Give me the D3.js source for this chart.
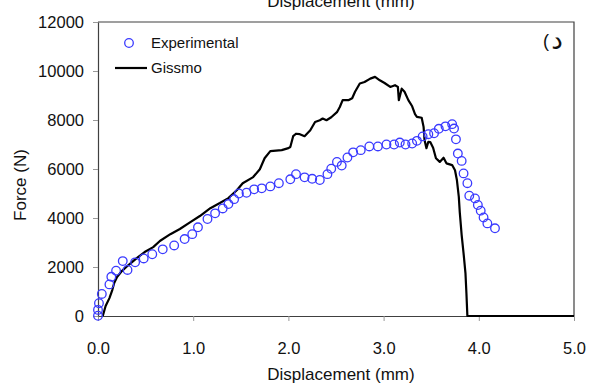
<!DOCTYPE html>
<html>
<head>
<meta charset="utf-8">
<script src="https://cdn.jsdelivr.net/npm/d3@7"></script>
<style>
  html, body { margin: 0; padding: 0; background: #fff; }
  svg { display: block; font-family: Arial, "Liberation Sans", sans-serif; }
</style>
</head>
<body>
<svg id="chart" width="589" height="383"></svg>
<script>
// ---- Data ----
const expDisp = [0.00, 0.00, 0.01, 0.04, 0.12, 0.14, 0.19, 0.26, 0.31, 0.39, 0.48, 0.57, 0.68, 0.80, 0.91, 0.99,
  1.05, 1.15, 1.23, 1.31, 1.37, 1.43, 1.48, 1.56, 1.64, 1.72, 1.81, 1.90, 2.02, 2.08, 2.17, 2.25, 2.33,
  2.41, 2.45, 2.51, 2.56, 2.62, 2.68, 2.76, 2.85, 2.94, 3.03, 3.11, 3.17, 3.23, 3.30, 3.35, 3.41, 3.47,
  3.53, 3.58, 3.65, 3.72, 3.74, 3.76, 3.78, 3.82, 3.84, 3.88, 3.90, 3.96, 3.99, 4.02, 4.05, 4.09, 4.17];
const expForce = [10, 250, 520, 900, 1290, 1600, 1850, 2240, 1880, 2190, 2350, 2520, 2720, 2880, 3140, 3340,
  3620, 3960, 4190, 4390, 4570, 4770, 5000, 5030, 5170, 5210, 5290, 5420, 5580, 5790, 5660, 5600, 5550,
  5790, 6010, 6290, 6140, 6470, 6680, 6770, 6920, 6920, 7000, 7000, 7080, 7000, 7040, 7150, 7330, 7420,
  7460, 7640, 7740, 7830, 7650, 7210, 6630, 6330, 5820, 5420, 4910, 4800, 4530, 4300, 4020, 3780, 3580];

const gisDisp = [0.05, 0.08, 0.12, 0.15, 0.17, 0.20, 0.25, 0.32, 0.41, 0.49, 0.58, 0.65, 0.76, 0.86, 0.97,
  1.07, 1.18, 1.28, 1.37, 1.46, 1.52, 1.63, 1.70, 1.75, 1.81, 1.93, 2.00, 2.02, 2.05, 2.08, 2.12, 2.17,
  2.23, 2.28, 2.33, 2.36, 2.40, 2.45, 2.51, 2.54, 2.57, 2.63, 2.67, 2.70, 2.75, 2.80, 2.86, 2.91, 2.96,
  3.01, 3.07, 3.12, 3.15, 3.16, 3.19, 3.22, 3.26, 3.30, 3.33, 3.35, 3.40, 3.42, 3.43, 3.45, 3.47, 3.49,
  3.52, 3.55, 3.59, 3.63, 3.66, 3.72, 3.75, 3.77, 3.79, 3.80, 3.82, 3.84, 3.86, 3.87, 3.88, 5.00];
const gisForce = [0, 410, 730, 1060, 1350, 1590, 1830, 2080, 2370, 2610, 2810, 3060, 3340, 3550, 3830,
  4080, 4400, 4610, 4810, 5140, 5420, 5670, 5990, 6440, 6730, 6770, 6850, 6900, 7340, 7440, 7420, 7340,
  7580, 7920, 7990, 8060, 7990, 8110, 8320, 8530, 8810, 8810, 8890, 9150, 9490, 9550, 9690, 9760, 9620,
  9510, 9350, 9420, 9350, 8810, 9280, 9150, 8810, 8560, 8240, 8130, 8090, 7720, 7180, 6850, 7110, 7100,
  6870, 6440, 6290, 6460, 6230, 6160, 5950, 5550, 4860, 4240, 3300, 2560, 1740, 930, 0, 0];

const xTicks = [0, 1, 2, 3, 4, 5];
const yTicks = [0, 2000, 4000, 6000, 8000, 10000, 12000];
const seriesNames = ["Experimental", "Gissmo"];
const xTitle = "Displacement (mm)";
const yTitle = "Force (N)";
const panelParen = "(";
const panelLetter = "د";

// ---- Layout ----
const W = 589, H = 383;
const margin = { left: 98, right: 15, top: 22, bottom: 67 };
const iw = W - margin.left - margin.right;
const ih = H - margin.top - margin.bottom;
const blue = "#3a3aff";
const axisColor = "#404040";

const svg = d3.select("#chart");
const g = svg.append("g").attr("transform", `translate(${margin.left},${margin.top})`);

const x = d3.scaleLinear().domain([0, 5]).range([0, iw]);
const y = d3.scaleLinear().domain([0, 12000]).range([ih, 0]);

// frame (top & right)
g.append("path")
  .attr("d", `M0,0H${iw}V${ih}`)
  .attr("fill", "none").attr("stroke", axisColor).attr("stroke-width", 1.2);

// axes
const xAxis = g.append("g").attr("transform", `translate(0,${ih})`)
  .call(d3.axisBottom(x).tickValues(xTicks).tickFormat(d3.format(".1f")).tickSize(5).tickSizeOuter(0).tickPadding(21));
const yAxis = g.append("g")
  .call(d3.axisLeft(y).tickValues(yTicks).tickFormat(d3.format("d")).tickSize(5).tickSizeOuter(0).tickPadding(9));
[xAxis, yAxis].forEach(a => {
  a.select(".domain").attr("stroke", axisColor).attr("stroke-width", 1.2);
  a.selectAll(".tick line").attr("stroke", "#999");
  a.selectAll(".tick text").attr("fill", "#111").style("font-size", "16.5px").style("font-family", "Arial, 'Liberation Sans', sans-serif");
});

// Gissmo line
const line = d3.line().x((d, i) => x(gisDisp[i])).y((d, i) => y(gisForce[i]));
g.append("path")
  .datum(gisDisp)
  .attr("d", line)
  .attr("fill", "none").attr("stroke", "#000").attr("stroke-width", 2.2).attr("stroke-linejoin", "round");

// Experimental points
g.append("g").selectAll("circle")
  .data(expDisp)
  .join("circle")
  .attr("cx", (d) => x(d))
  .attr("cy", (d, i) => y(expForce[i]))
  .attr("r", 4.3)
  .attr("fill", "none").attr("stroke", blue).attr("stroke-width", 1.3);

// axis titles
svg.append("text")
  .attr("x", 341).attr("y", 380).attr("text-anchor", "middle")
  .style("font-size", "17px").attr("fill", "#111").text(xTitle);
svg.append("text")
  .attr("x", 341).attr("y", 7).attr("text-anchor", "middle")
  .style("font-size", "17px").attr("fill", "#111").text(xTitle);
svg.append("text")
  .attr("transform", `translate(26,${margin.top + ih / 2 + 16}) rotate(-90)`)
  .attr("text-anchor", "middle")
  .style("font-size", "17px").attr("fill", "#111").text(yTitle);

// legend
const leg = svg.append("g");
leg.append("circle").attr("cx", 129).attr("cy", 43).attr("r", 4.3)
  .attr("fill", "none").attr("stroke", blue).attr("stroke-width", 1.3);
leg.append("text").attr("x", 151).attr("y", 43).attr("dy", "0.35em")
  .style("font-size", "15px").attr("fill", "#111").text(seriesNames[0]);
leg.append("line").attr("x1", 115).attr("x2", 147).attr("y1", 68).attr("y2", 68)
  .attr("stroke", "#000").attr("stroke-width", 2.2);
leg.append("text").attr("x", 151).attr("y", 68).attr("dy", "0.35em")
  .style("font-size", "15px").attr("fill", "#111").text(seriesNames[1]);

// panel label "(د"
svg.append("text").attr("x", 546).attr("y", 47).attr("text-anchor", "middle")
  .style("font-size", "18px").attr("fill", "#111").text(panelParen);
svg.append("text").attr("x", 557).attr("y", 49).attr("text-anchor", "middle")
  .style("font-size", "26px").style("font-family", "'DejaVu Sans', sans-serif").attr("fill", "#111").text(panelLetter);
</script>
</body>
</html>
